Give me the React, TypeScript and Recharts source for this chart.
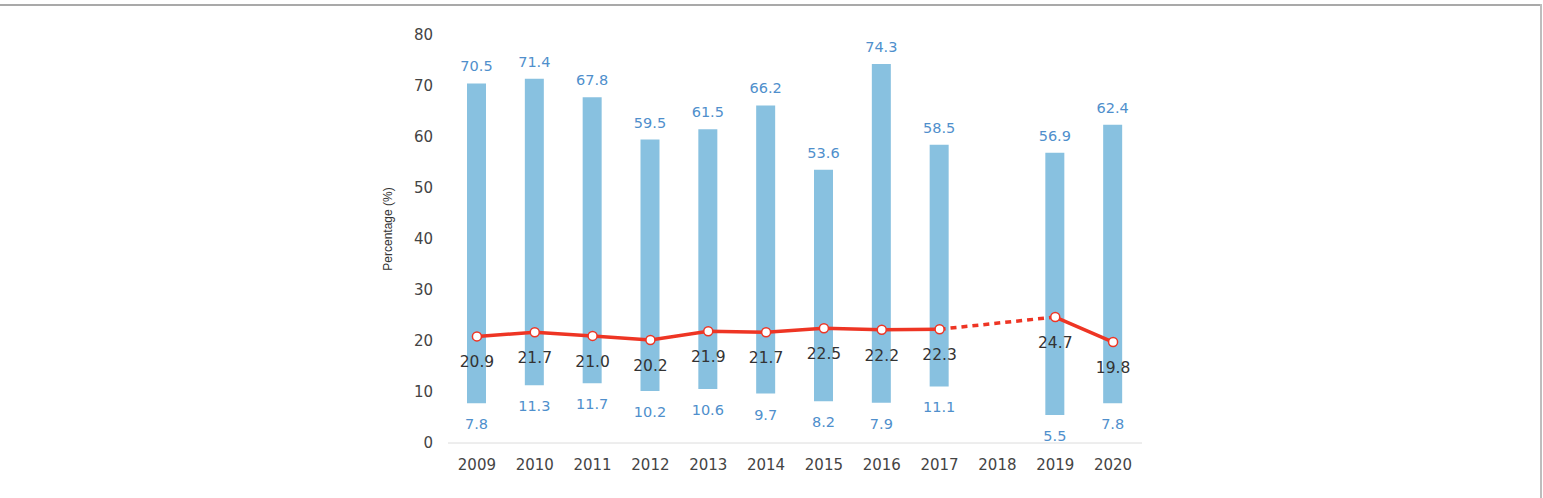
import React from 'react';
import { ComposedChart, Bar, Line, XAxis, YAxis, LabelList } from 'recharts';

const years = ['2009', '2010', '2011', '2012', '2013', '2014', '2015', '2016', '2017', '2018', '2019', '2020'];
const highValues = [70.5, 71.4, 67.8, 59.5, 61.5, 66.2, 53.6, 74.3, 58.5, null, 56.9, 62.4];
const lowValues = [7.8, 11.3, 11.7, 10.2, 10.6, 9.7, 8.2, 7.9, 11.1, null, 5.5, 7.8];
const meanValues = [20.9, 21.7, 21.0, 20.2, 21.9, 21.7, 22.5, 22.2, 22.3, null, 24.7, 19.8];
// dashed link over the missing year
const gapLink = [null, null, null, null, null, null, null, null, 22.3, null, 24.7, null];
const yTicks = [0, 10, 20, 30, 40, 50, 60, 70, 80];

const FONT = '"DejaVu Sans", Verdana, sans-serif';
const BLUE_TEXT = '#4f8fcc';

const data = years.map((year, i) => ({
  year,
  range: highValues[i] == null ? null : [lowValues[i], highValues[i]],
  mean: meanValues[i],
  link: gapLink[i],
}));

const pair = (value: any): number[] | null => {
  if (Array.isArray(value)) return value as number[];
  if (value && Array.isArray(value.value)) return value.value;
  return null;
};

const HighLabel = (props: any) => {
  const { x, y, width, height, value } = props;
  const v = pair(value);
  if (!v || v[1] == null) return null;
  const top = Math.min(y, y + height);
  return (
    <text x={x + width / 2} y={top - 12} textAnchor="middle" fill={BLUE_TEXT} fontSize={14.5} fontFamily={FONT}>
      {Number(v[1]).toFixed(1)}
    </text>
  );
};

const LowLabel = (props: any) => {
  const { x, y, width, height, value } = props;
  const v = pair(value);
  if (!v || v[0] == null) return null;
  const bottom = Math.max(y, y + height);
  return (
    <text x={x + width / 2} y={bottom + 26} textAnchor="middle" fill={BLUE_TEXT} fontSize={14.5} fontFamily={FONT}>
      {Number(v[0]).toFixed(1)}
    </text>
  );
};

const MeanLabel = (props: any) => {
  const { x, y, value } = props;
  if (value == null) return null;
  return (
    <text x={x} y={y + 31} textAnchor="middle" fill="#333" fontSize={15.5} fontFamily={FONT}>
      {Number(value).toFixed(1)}
    </text>
  );
};

const App: React.FC = () => {
  return (
    <div style={{ position: 'absolute', left: 0, top: 0, width: 1543, height: 498, background: '#fff' }}>
      {/* frame lines */}
      <div style={{ position: 'absolute', left: 0, top: 4, width: 1542, height: 2, background: '#a9a9a9' }} />
      <div style={{ position: 'absolute', left: 1540, top: 4, width: 2, height: 494, background: '#bdbdbd' }} />
      <ComposedChart
        width={1543}
        height={498}
        data={data}
        margin={{ top: 35, right: 401, bottom: 25, left: 388 }}
        barCategoryGap={0}
      >
        <XAxis
          dataKey="year"
          axisLine={{ stroke: '#dcdcdc' }}
          tickLine={false}
          tickMargin={10}
          height={30}
          tick={{ fill: '#444', fontSize: 15, fontFamily: FONT }}
        />
        <YAxis
          domain={[0, 80]}
          ticks={yTicks}
          axisLine={false}
          tickLine={false}
          tickMargin={9}
          width={60}
          tick={{ fill: '#444', fontSize: 15, fontFamily: FONT }}
          label={{
            value: 'Percentage (%)',
            angle: -90,
            position: 'insideLeft',
            offset: 0,
            dy: -10,
            style: { fill: '#333', fontSize: 12, fontFamily: '"Liberation Sans", Arial, sans-serif', textAnchor: 'middle' },
          }}
        />
        <Bar dataKey="range" fill="#88c1e0" barSize={19} isAnimationActive={false}>
          <LabelList dataKey="range" content={HighLabel} />
          <LabelList dataKey="range" content={LowLabel} />
        </Bar>
        <Line
          dataKey="link"
          stroke="#ee3524"
          strokeWidth={3.5}
          strokeDasharray="6 5"
          dot={false}
          activeDot={false}
          connectNulls
          isAnimationActive={false}
        />
        <Line
          dataKey="mean"
          stroke="#ee3524"
          strokeWidth={3.5}
          dot={{ r: 4.5, fill: '#fff', stroke: '#ee3524', strokeWidth: 1.5 }}
          activeDot={false}
          connectNulls={false}
          isAnimationActive={false}
        >
          <LabelList dataKey="mean" content={MeanLabel} />
        </Line>
      </ComposedChart>
    </div>
  );
};

export default App;
